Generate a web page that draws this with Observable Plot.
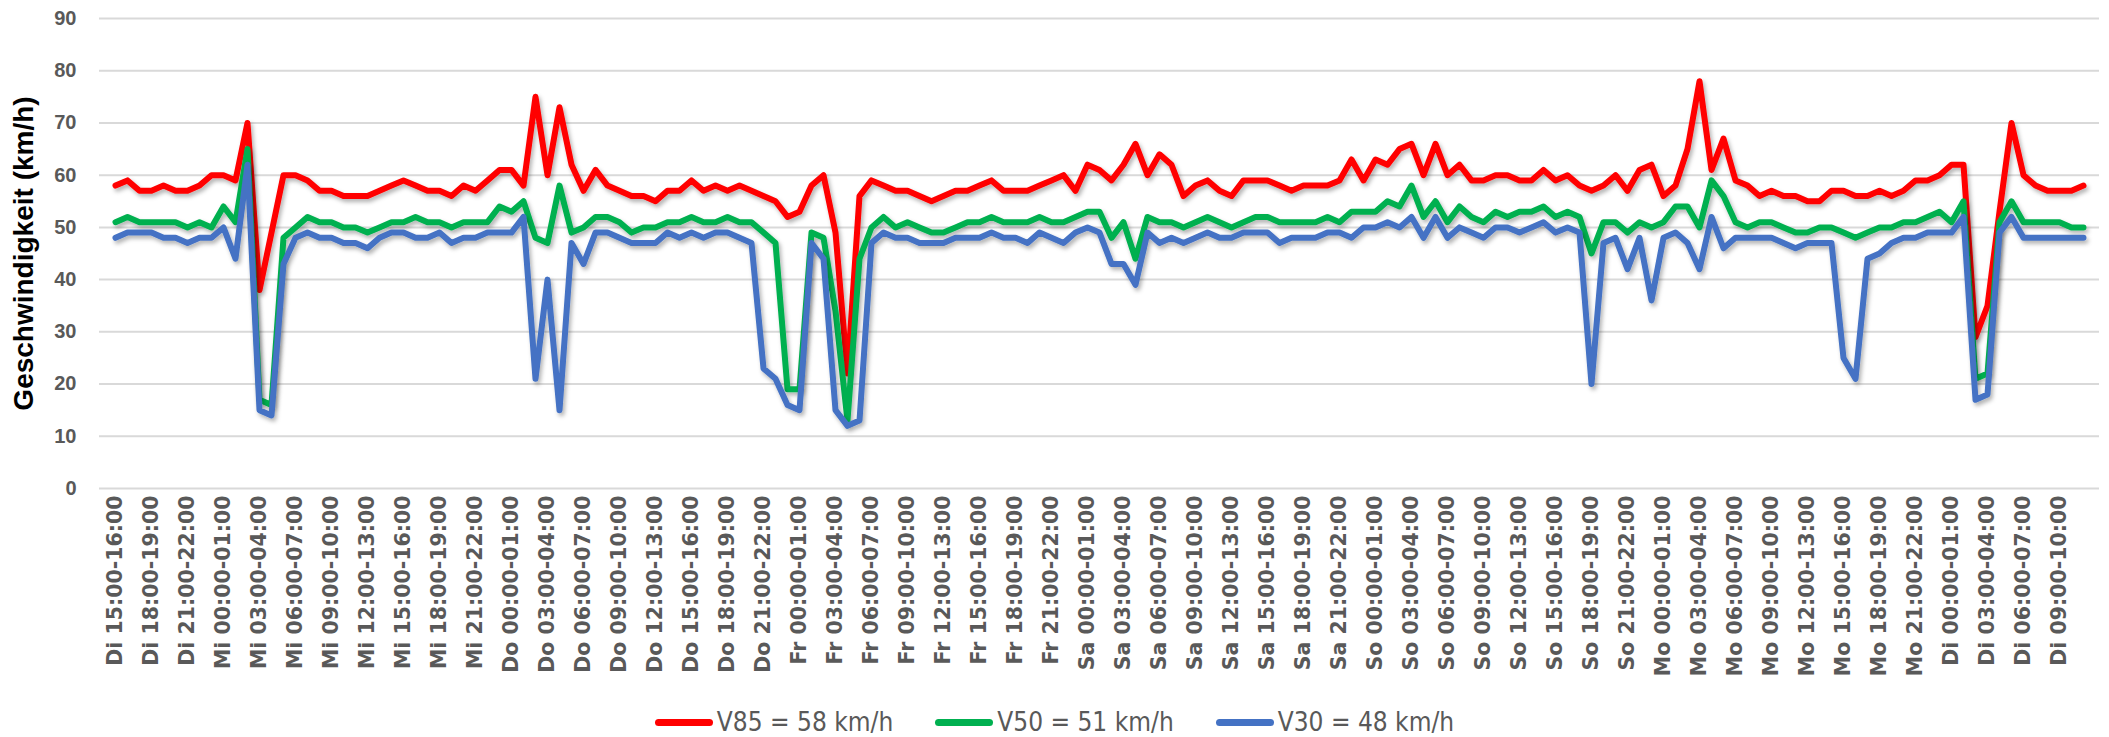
<!DOCTYPE html>
<html>
<head>
<meta charset="utf-8">
<script src="https://cdn.jsdelivr.net/npm/d3@7"></script>
<script src="https://cdn.jsdelivr.net/npm/@observablehq/plot@0.6"></script>
<style>
  html, body { margin: 0; padding: 0; background: #fff; }
  body { width: 2109px; height: 737px; overflow: hidden; font-family: "Liberation Sans", Arial, sans-serif; }
  #legend { display: flex; justify-content: center; align-items: center; height: 44px; gap: 0; }
  .item { display: flex; align-items: center; margin: 0 21px; }
  .sw { width: 58px; height: 7px; border-radius: 4px; margin-right: 4px; }
  .lt { font-family: "Liberation Sans Narrow", "DejaVu Sans Condensed", sans-serif; font-size: 26px; color: #595959; }
</style>
</head>
<body>
<div id="chart"></div>
<div id="legend"></div>
<script>
// Time categories: hourly slots, starting Tuesday 15:00-16:00
const dayNames = ["Di", "Mi", "Do", "Fr", "Sa", "So", "Mo", "Di"];
const startHour = 15;
const slotCount = 165;
const pad = h => String(h).padStart(2, "0");
const categories = [];
for (let k = 0; k < slotCount; k++) {
  const t = startHour + k;
  const day = dayNames[Math.floor(t / 24)];
  const h = t % 24;
  categories.push(`${day} ${pad(h)}:00-${pad((h + 1) % 24)}:00`);
}
const xTicks = categories.filter((d, i) => i % 3 === 0);
const yTicks = [0, 10, 20, 30, 40, 50, 60, 70, 80, 90];

// Series values (km/h)
const v85 = [
  58,59,57,57,58,57,57,58,60,60,59,70,38,49,60,60,59,57,57,56,56,56,57,58,59,58,57,
  57,56,58,57,59,61,61,58,75,60,73,62,57,61,58,57,56,56,55,57,57,59,57,58,57,58,57,56,
  55,52,53,58,60,49,22,56,59,58,57,57,56,55,56,57,57,58,59,57,57,57,58,59,60,57,62,61,
  59,62,66,60,64,62,56,58,59,57,56,59,59,59,58,57,58,58,58,59,63,59,63,62,65,66,60,66,
  60,62,59,59,60,60,59,59,61,59,60,58,57,58,60,57,61,62,56,58,65,78,61,67,59,58,56,57,
  56,56,55,55,57,57,56,56,57,56,57,59,59,60,62,62,29,35,53,70,60,58,57,57,57,58
];
const v50 = [
  51,52,51,51,51,51,50,51,50,54,51,65,17,16,48,50,52,51,51,50,50,49,50,51,51,52,51,
  51,50,51,51,51,54,53,55,48,47,58,49,50,52,52,51,49,50,50,51,51,52,51,51,52,51,51,49,
  47,19,19,49,48,34,13,44,50,52,50,51,50,49,49,50,51,51,52,51,51,51,52,51,51,52,53,53,
  48,51,44,52,51,51,50,51,52,51,50,51,52,52,51,51,51,51,52,51,53,53,53,55,54,58,52,55,
  51,54,52,51,53,52,53,53,54,52,53,52,45,51,51,49,51,50,51,54,54,50,59,56,51,50,51,51,
  50,49,49,50,50,49,48,49,50,50,51,51,52,53,51,55,21,22,51,55,51,51,51,51,50,50
];
const v30 = [
  48,49,49,49,48,48,47,48,48,50,44,62,15,14,43,48,49,48,48,47,47,46,48,49,49,48,48,
  49,47,48,48,49,49,49,52,21,40,15,47,43,49,49,48,47,47,47,49,48,49,48,49,49,48,47,23,
  21,16,15,47,44,15,12,13,47,49,48,48,47,47,47,48,48,48,49,48,48,47,49,48,47,49,50,49,
  43,43,39,49,47,48,47,48,49,48,48,49,49,49,47,48,48,48,49,49,48,50,50,51,50,52,48,52,
  48,50,49,48,50,50,49,50,51,49,50,49,20,47,48,42,48,36,48,49,47,42,52,46,48,48,48,48,
  47,46,47,47,47,25,21,44,45,47,48,48,49,49,49,52,17,18,49,52,48,48,48,48,48,48
];

const seriesNames = ["V85 = 58 km/h", "V50 = 51 km/h", "V30 = 48 km/h"];
const seriesColors = ["#ff0000", "#00b050", "#4472c4"];
const seriesValues = [v85, v50, v30];
const yTitle = "Geschwindigkeit (km/h)";

const lineMarks = seriesValues.map((vals, s) =>
  Plot.line(vals, {
    x: (d, i) => categories[i],
    y: d => d,
    stroke: seriesColors[s],
    strokeWidth: 6,
    strokeLinejoin: "round",
    strokeLinecap: "round"
  })
);

const chart = Plot.plot({
  width: 2109,
  height: 700,
  marginLeft: 99,
  marginRight: 10,
  marginTop: 18,
  marginBottom: 212,
  style: { background: "#fff", color: "#595959", overflow: "visible" },
  x: { type: "point", domain: categories, padding: 0.5, align: 0.5 },
  y: { domain: [0, 90] },
  marks: [
    Plot.ruleY(yTicks, { stroke: "#d9d9d9", strokeWidth: 2 }),
    Plot.axisY({
      ticks: yTicks, tickSize: 0, tickPadding: 23, label: null,
      fontSize: 20, fontWeight: "bold", fontFamily: "Liberation Sans, Arial, sans-serif", fill: "#595959"
    }),
    Plot.axisX({
      ticks: xTicks, tickSize: 0, tickPadding: 7, tickRotate: -90, label: null,
      fontSize: 20.5, fontWeight: "bold", fontFamily: "DejaVu Sans, Verdana, sans-serif", fill: "#595959"
    }),
    Plot.text([yTitle], {
      frameAnchor: "left", rotate: -90, dx: -75, textAnchor: "middle",
      fontSize: 28, fontWeight: "bold", fontFamily: "Liberation Sans, Arial, sans-serif", fill: "#000"
    }),
    ...lineMarks
  ]
});

// soft drop shadow under the lines, as in the original
const svg = d3.select(chart);
const defs = svg.insert("defs", ":first-child");
const f = defs.append("filter").attr("id", "shadow").attr("x", "-5%").attr("y", "-5%").attr("width", "110%").attr("height", "120%");
f.append("feDropShadow").attr("dx", 2).attr("dy", 3).attr("stdDeviation", 2)
  .attr("flood-color", "#000").attr("flood-opacity", 0.3);
svg.selectAll('g[aria-label="line"]').attr("filter", "url(#shadow)");

document.getElementById("chart").appendChild(chart);

const legend = document.getElementById("legend");
seriesNames.forEach((name, s) => {
  const item = document.createElement("div");
  item.className = "item";
  const sw = document.createElement("div");
  sw.className = "sw";
  sw.style.background = seriesColors[s];
  const lt = document.createElement("span");
  lt.className = "lt";
  lt.textContent = name;
  item.appendChild(sw);
  item.appendChild(lt);
  legend.appendChild(item);
});
</script>
</body>
</html>
